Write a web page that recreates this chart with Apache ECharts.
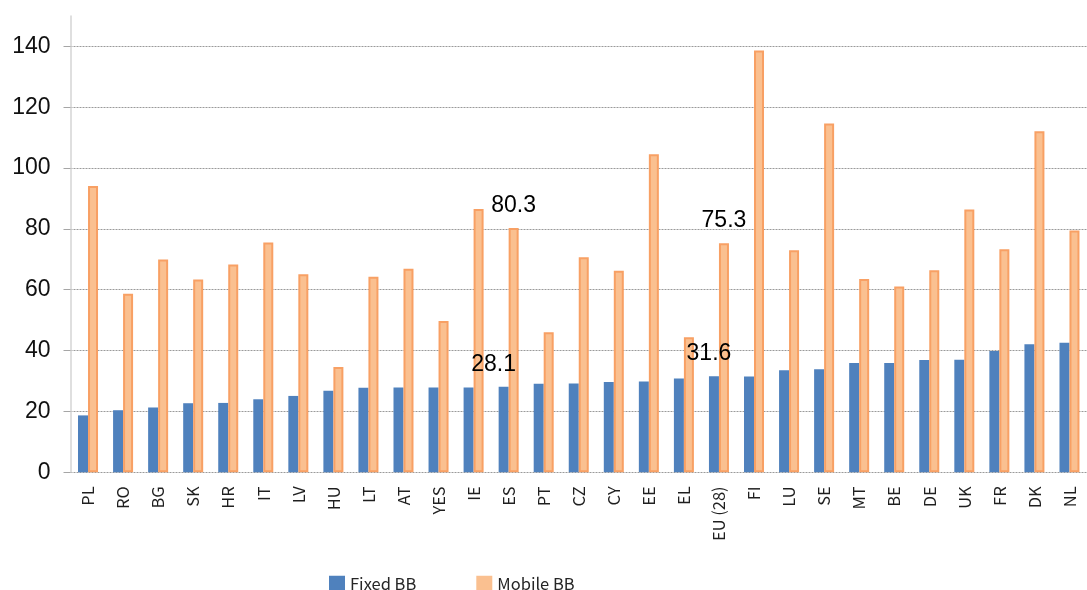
<!DOCTYPE html>
<html>
<head>
<meta charset="utf-8">
<script src="https://cdn.jsdelivr.net/npm/echarts@6/dist/echarts.min.js"></script>
<style>
  html, body { margin: 0; padding: 0; background: #fff; }
  #chart { width: 1087px; height: 590px; }
</style>
</head>
<body>
<div id="chart"></div>
<script>
// Broadband take-up by country: fixed vs mobile subscriptions per 100 inhabitants
const categories = ['PL', 'RO', 'BG', 'SK', 'HR', 'IT', 'LV', 'HU', 'LT', 'AT', 'YES', 'IE', 'ES', 'PT', 'CZ',
  'CY', 'EE', 'EL', 'EU (28)', 'FI', 'LU', 'SE', 'MT', 'BE', 'DE', 'UK', 'FR', 'DK', 'NL'];
const fixedBB = [18.7, 20.4, 21.3, 22.7, 22.8, 24.0, 25.1, 26.8, 27.8, 27.9, 27.9, 27.9, 28.1, 29.1, 29.2,
  29.7, 29.8, 30.8, 31.6, 31.5, 33.5, 33.9, 35.9, 35.9, 36.9, 37.0, 39.9, 42.1, 42.6];
const mobileBB = [94.1, 58.7, 69.9, 63.4, 68.3, 75.5, 65.1, 34.6, 64.3, 66.9, 49.7, 86.5, 80.3, 46.0, 70.7,
  66.2, 104.5, 44.4, 75.3, 138.6, 73.0, 114.6, 63.5, 61.1, 66.4, 86.4, 73.3, 112.1, 79.5];
const seriesNames = ['Fixed BB', 'Mobile BB'];
const labelledCategories = ['ES', 'EU (28)'];

const BLUE = '#4f81bd';
const ORANGE_FILL = '#fac090';
const ORANGE_EDGE = '#f8a064';

const labelFont = { fontSize: 23, fontFamily: 'Liberation Sans, Arial, sans-serif', color: '#000' };
// horizontal nudges for the value labels of the fixed series
const fixedLabelShift = { 'ES': -10, 'EU (28)': -5 };

function withLabels(values, shiftMap) {
  return values.map((v, i) => {
    const cat = categories[i];
    if (!labelledCategories.includes(cat)) return v;
    return {
      value: v,
      label: Object.assign({
        show: true,
        position: 'top',
        distance: 11,
        offset: [shiftMap ? (shiftMap[cat] || 0) : 0, 0],
        formatter: (p) => p.value.toFixed(1)
      }, labelFont)
    };
  });
}

const chart = echarts.init(document.getElementById('chart'), null, { renderer: 'canvas' });

const plotLeft = 70.5;
const plotWidth = categories.length * 35.4;

chart.setOption({
  animation: false,
  backgroundColor: '#fff',
  grid: [
    { left: plotLeft, top: 46.3, width: plotWidth, bottom: 117.7, containLabel: false },
    // frame used only to carry the vertical axis line above the top gridline
    { left: plotLeft, top: 16, width: plotWidth, bottom: 117.7, containLabel: false }
  ],
  legend: {
    left: 329,
    top: 575,
    padding: 0,
    itemWidth: 16,
    itemHeight: 15,
    itemGap: 60,
    icon: 'rect',
    textStyle: { fontSize: 16.5, fontFamily: 'Noto Sans CJK KR, Noto Sans, sans-serif', color: '#262626' },
    data: [
      { name: seriesNames[0], itemStyle: { color: BLUE, borderWidth: 0 } },
      { name: seriesNames[1], itemStyle: { color: ORANGE_FILL, borderWidth: 0 } }
    ]
  },
  xAxis: [
    {
      gridIndex: 0,
      type: 'category',
      data: categories,
      axisLine: { show: false },
      axisTick: { show: false },
      axisLabel: {
        rotate: 90,
        margin: 14,
        interval: 0,
        fontSize: 16.5,
        fontFamily: 'Noto Sans CJK KR, Noto Sans, sans-serif',
        color: '#1f1f1f'
      }
    },
    { gridIndex: 1, type: 'category', data: categories, show: false }
  ],
  yAxis: [
    {
      gridIndex: 0,
      type: 'value',
      min: 0,
      max: 140,
      interval: 20,
      axisLine: { show: false },
      axisTick: { show: true, length: 7, lineStyle: { color: '#a6a6a6', width: 1 } },
      axisLabel: {
        margin: 20,
        fontSize: 23,
        fontFamily: 'Liberation Sans, Arial, sans-serif',
        color: '#111'
      },
      splitLine: { show: true, lineStyle: { color: '#9a9a9a', width: 1, type: [2, 1] } }
    },
    {
      gridIndex: 1,
      type: 'value',
      min: 0,
      max: 1,
      axisLine: { show: true, lineStyle: { color: '#d4d4d4', width: 1.5 } },
      axisTick: { show: false },
      axisLabel: { show: false },
      splitLine: { show: false }
    }
  ],
  series: [
    {
      name: seriesNames[0],
      type: 'bar',
      xAxisIndex: 0,
      yAxisIndex: 0,
      barWidth: 10,
      barGap: '0%',
      itemStyle: { color: BLUE },
      data: withLabels(fixedBB, fixedLabelShift)
    },
    {
      name: seriesNames[1],
      type: 'bar',
      xAxisIndex: 0,
      yAxisIndex: 0,
      barWidth: 10,
      barGap: '0%',
      itemStyle: { color: ORANGE_FILL, borderColor: ORANGE_EDGE, borderWidth: 2 },
      data: withLabels(mobileBB, null)
    }
  ]
});
</script>
</body>
</html>
